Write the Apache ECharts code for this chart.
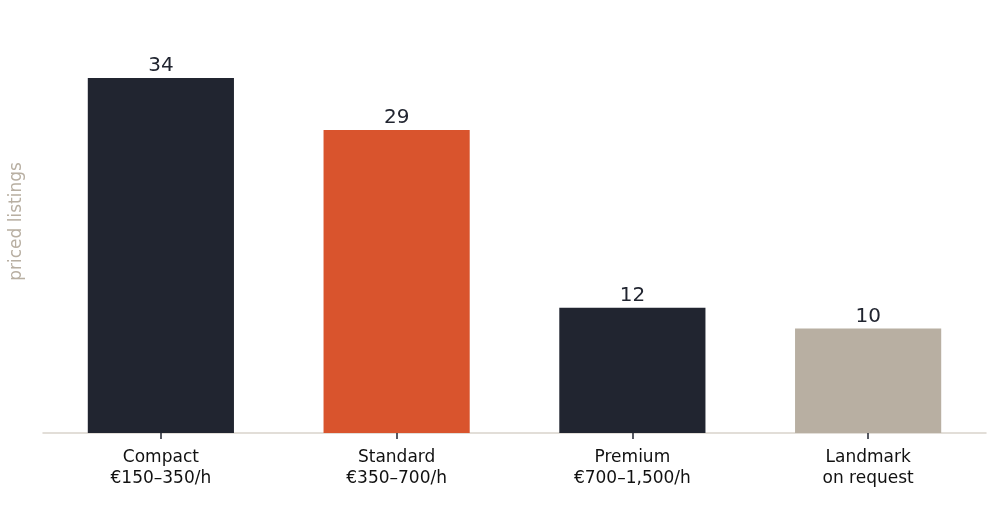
<!DOCTYPE html>
<html><head><meta charset="utf-8">
<script src="https://cdn.jsdelivr.net/npm/echarts@6/dist/echarts.min.js"></script>
<style>html,body{margin:0;padding:0;background:#fff}#c{width:1002px;height:507px}</style>
</head><body><div id="c"></div>
<script>
const categories = ["Compact\n€150–350/h", "Standard\n€350–700/h", "Premium\n€700–1,500/h", "Landmark\non request"];
const values = [34, 29, 12, 10];
const colors = ["#212530", "#D9542D", "#212530", "#B8AFA2"];
const chart = echarts.init(document.getElementById('c'));
chart.setOption({
  animation: false,
  grid: {left: 43, right: 16, top: 10, bottom: 74},
  xAxis: {
    type: 'category', data: categories,
    axisLine: {lineStyle: {color: '#D9D3CB', width: 1.5}},
    axisTick: {show: true, alignWithLabel: true, length: 6, lineStyle: {color: '#212530', width: 1.5}},
    axisLabel: {color: '#111', fontSize: 17, lineHeight: 21, margin: 14, fontFamily: 'DejaVu Sans'}
  },
  yAxis: {
    type: 'value', min: 0, max: 40.5, show: true,
    name: 'priced listings', nameLocation: 'middle', nameGap: 18,
    nameTextStyle: {color: '#B8AFA2', fontSize: 17, fontFamily: 'DejaVu Sans'},
    axisLine: {show: false}, axisTick: {show: false}, axisLabel: {show: false}, splitLine: {show: false}
  },
  series: [{
    type: 'bar', barWidth: '62%',
    data: values.map((v, i) => ({value: v, itemStyle: {color: colors[i]}})),
    label: {show: true, position: 'top', distance: 2, color: '#212530', fontSize: 20, fontFamily: 'DejaVu Sans'}
  }]
});
</script></body></html>
